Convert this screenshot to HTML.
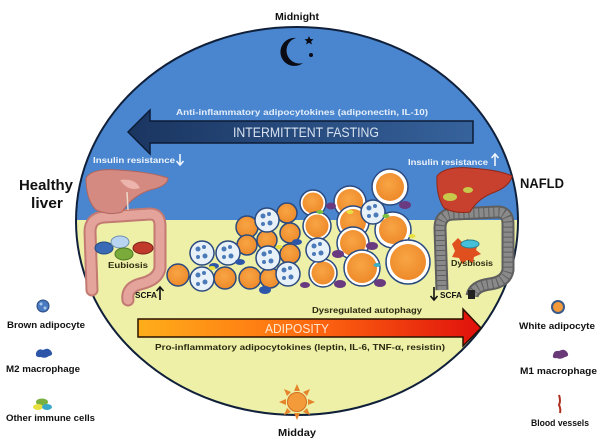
<!DOCTYPE html>
<html><head><meta charset="utf-8"><style>
html,body{margin:0;padding:0;background:#fff;}
svg{display:block;}
text{font-family:"Liberation Sans",Arial,sans-serif;font-weight:bold;}
</style></head><body>
<svg width="600" height="443" viewBox="0 0 600 443" xmlns="http://www.w3.org/2000/svg">
<defs>
<clipPath id="ell"><ellipse cx="297" cy="221" rx="221" ry="194"/></clipPath>
<linearGradient id="fast" x1="0" x2="1" y1="0" y2="0"><stop offset="0" stop-color="#1a3560"/><stop offset="1" stop-color="#36629c"/></linearGradient>
<linearGradient id="adip" x1="0" x2="1" y1="0" y2="0"><stop offset="0" stop-color="#ffae1a"/><stop offset="0.5" stop-color="#ff6a10"/><stop offset="1" stop-color="#e0100c"/></linearGradient>
<radialGradient id="org" cx="0.45" cy="0.4" r="0.6"><stop offset="0" stop-color="#f8a545"/><stop offset="1" stop-color="#ee8a2a"/></radialGradient>
</defs>
<rect width="600" height="443" fill="#fff"/>
<g clip-path="url(#ell)">
<rect x="0" y="0" width="600" height="443" fill="#eef0a8"/>
<rect x="0" y="0" width="600" height="220" fill="#4a86cf"/>
</g>
<ellipse cx="297" cy="221" rx="221" ry="194" fill="none" stroke="#10203a" stroke-width="2"/>

<text x="297" y="20" font-size="10" text-anchor="middle" fill="#111" textLength="44" lengthAdjust="spacingAndGlyphs">Midnight</text>
<path d="M296 38 A14 14 0 1 0 303 63 A11 11 0 1 1 296 38 Z" fill="#0b0b14"/>
<path d="M309 36 l1.3 3 3.2 .3 -2.4 2.1 .8 3.1 -2.9 -1.7 -2.9 1.7 .8 -3.1 -2.4 -2.1 3.2 -.3z" fill="#0b0b14"/>
<circle cx="311" cy="55" r="2" fill="#0b0b14"/>

<text x="302" y="115" font-size="8.5" text-anchor="middle" fill="#e4eefa" textLength="252" lengthAdjust="spacingAndGlyphs">Anti-inflammatory adipocytokines (adiponectin, IL-10)</text>
<polygon points="128,132 150,110 150,121 473,121 473,143 150,143 150,154" fill="url(#fast)" stroke="#0c1b36" stroke-width="1.5"/>
<text x="306" y="137" font-size="13.5" style="font-weight:normal" text-anchor="middle" fill="#d8e2f0" textLength="146" lengthAdjust="spacingAndGlyphs">INTERMITTENT FASTING</text>

<text x="93" y="163" font-size="8.5" fill="#eef4fc" textLength="82" lengthAdjust="spacingAndGlyphs">Insulin resistance</text>
<path d="M180 154 v10 M176.5 161 l3.5 4 3.5 -4" stroke="#eef4fc" stroke-width="1.6" fill="none"/>
<text x="408" y="165" font-size="8.5" fill="#eef4fc" textLength="80" lengthAdjust="spacingAndGlyphs">Insulin resistance</text>
<path d="M495 166 v-11 M491.5 158 l3.5 -4 3.5 4" stroke="#eef4fc" stroke-width="1.6" fill="none"/>

<text x="46" y="190" font-size="14.5" text-anchor="middle" fill="#111" textLength="54" lengthAdjust="spacingAndGlyphs">Healthy</text>
<text x="47" y="208" font-size="14.5" text-anchor="middle" fill="#111" textLength="32" lengthAdjust="spacingAndGlyphs">liver</text>
<text x="520" y="188" font-size="13.5" fill="#111" textLength="44" lengthAdjust="spacingAndGlyphs">NAFLD</text>

<g fill="none" stroke-linecap="round" stroke-linejoin="round">
<path d="M92 290 L90 232 Q90 218 104 217 L150 214 Q160 214 160 226 L160 268 Q158 280 140 284 Q126 288 128 300" stroke="#c27a72" stroke-width="13"/>
<path d="M92 290 L90 232 Q90 218 104 217 L150 214 Q160 214 160 226 L160 268 Q158 280 140 284 Q126 288 128 300" stroke="#e4a49c" stroke-width="9" stroke-dasharray="4 1"/>
</g>
<path d="M86 178 Q92 168 118 170 Q150 172 168 178 Q168 186 150 190 Q132 196 122 212 Q110 216 96 210 Q86 200 86 178 Z" fill="#d48a80" stroke="#b0665e" stroke-width="1"/>
<path d="M120 180 Q135 178 140 188 Q128 192 120 180Z" fill="#ecb4ac"/>
<path d="M127 192 L128 210" stroke="#eed8c8" stroke-width="1.5"/>
<ellipse cx="104" cy="248" rx="9" ry="6" fill="#3a6ab5" stroke="#234a80"/>
<ellipse cx="120" cy="242" rx="9" ry="6" fill="#b8d4f0" stroke="#7090b0"/>
<ellipse cx="124" cy="254" rx="9" ry="6" fill="#7aab3a" stroke="#4d7a20"/>
<ellipse cx="143" cy="248" rx="10" ry="6" fill="#c0392b" stroke="#7a2018"/>
<text x="128" y="268" font-size="8.5" text-anchor="middle" fill="#2a2a10" textLength="40" lengthAdjust="spacingAndGlyphs">Eubiosis</text>
<text x="135" y="298" font-size="8.5" fill="#111" textLength="22" lengthAdjust="spacingAndGlyphs">SCFA</text>
<path d="M160 300 v-12 M156.5 291 l3.5 -4 3.5 4" stroke="#111" stroke-width="1.6" fill="none"/>

<g fill="none" stroke-linecap="butt" stroke-linejoin="round">
<path d="M442 290 L440 228 Q440 214 454 214 L498 212 Q508 212 508 224 L508 270 Q506 282 490 284 Q474 286 472 296" stroke="#5e5e5e" stroke-width="13"/>
<path d="M442 290 L440 228 Q440 214 454 214 L498 212 Q508 212 508 224 L508 270 Q506 282 490 284 Q474 286 472 296" stroke="#8a8a8a" stroke-width="9" stroke-dasharray="4 1"/>
</g>
<rect x="468" y="290" width="7" height="9" fill="#222"/>
<path d="M437 176 Q445 166 470 168 Q500 170 512 176 Q510 186 495 192 Q478 198 470 212 Q455 214 444 208 Q436 196 437 176 Z" fill="#c8402e" stroke="#902818" stroke-width="1"/>
<ellipse cx="450" cy="197" rx="7" ry="4" fill="#c8c84a"/>
<ellipse cx="468" cy="190" rx="5" ry="3" fill="#c8c84a"/>
<path d="M452 244 l6 -6 4 4 6 -3 3 5 7 0 -2 6 5 4 -7 3 -1 6 -6 -3 -5 4 -3 -6 -7 -1 3 -6z" fill="#e0501e"/>
<ellipse cx="470" cy="244" rx="9" ry="4" fill="#46c0d8" stroke="#2a8090"/>
<text x="472" y="266" font-size="8.5" text-anchor="middle" fill="#2a2a10" textLength="42" lengthAdjust="spacingAndGlyphs">Dysbiosis</text>
<path d="M434 287 v12 M430.5 296 l3.5 4 3.5 -4" stroke="#111" stroke-width="1.6" fill="none"/>
<text x="440" y="298" font-size="8.5" fill="#111" textLength="22" lengthAdjust="spacingAndGlyphs">SCFA</text>

<g stroke="#2a4a80" stroke-width="1.5">
<g>
<circle cx="390" cy="187" r="18" fill="#fff"/><circle cx="390" cy="187" r="14" fill="url(#org)" stroke="none"/>
<circle cx="393" cy="230" r="18" fill="#fff"/><circle cx="393" cy="230" r="14" fill="url(#org)" stroke="none"/>
<circle cx="408" cy="262" r="22" fill="#fff"/><circle cx="408" cy="262" r="18" fill="url(#org)" stroke="none"/>
<circle cx="350" cy="202" r="16" fill="#fff"/><circle cx="350" cy="202" r="13" fill="url(#org)" stroke="none"/>
<circle cx="353" cy="222" r="16" fill="#fff"/><circle cx="353" cy="222" r="13" fill="url(#org)" stroke="none"/>
<circle cx="353" cy="243" r="16" fill="#fff"/><circle cx="353" cy="243" r="13" fill="url(#org)" stroke="none"/>
<circle cx="362" cy="268" r="18" fill="#fff"/><circle cx="362" cy="268" r="15" fill="url(#org)" stroke="none"/>
<circle cx="313" cy="203" r="13" fill="#fff"/><circle cx="313" cy="203" r="10.5" fill="url(#org)" stroke="none"/>
<circle cx="317" cy="226" r="14" fill="#fff"/><circle cx="317" cy="226" r="11.5" fill="url(#org)" stroke="none"/>
<circle cx="323" cy="273" r="14" fill="#fff"/><circle cx="323" cy="273" r="11.5" fill="url(#org)" stroke="none"/>
</g>
<circle cx="178" cy="275" r="11" fill="url(#org)"/>
<circle cx="225" cy="278" r="11" fill="url(#org)"/>
<circle cx="247" cy="227" r="11" fill="url(#org)"/>
<circle cx="247" cy="245" r="10" fill="url(#org)"/>
<circle cx="250" cy="278" r="11" fill="url(#org)"/>
<circle cx="267" cy="240" r="10" fill="url(#org)"/>
<circle cx="270" cy="278" r="10" fill="url(#org)"/>
<circle cx="287" cy="213" r="10" fill="url(#org)"/>
<circle cx="290" cy="233" r="10" fill="url(#org)"/>
<circle cx="290" cy="254" r="10" fill="url(#org)"/>
<g fill="#e8f0f8">
<circle cx="202" cy="253" r="12"/>
<circle cx="202" cy="279" r="12"/>
<circle cx="228" cy="253" r="12"/>
<circle cx="267" cy="220" r="12"/>
<circle cx="268" cy="258" r="12"/>
<circle cx="288" cy="274" r="12"/>
<circle cx="318" cy="250" r="12"/>
<circle cx="373" cy="212" r="12"/>
</g>
</g>
<g fill="#4a7ab8">
<circle cx="198" cy="249" r="2.5"/><circle cx="205" cy="256" r="2.5"/><circle cx="204" cy="247" r="2"/><circle cx="198" cy="257" r="2"/>
<circle cx="198" cy="275" r="2.5"/><circle cx="205" cy="282" r="2.5"/><circle cx="204" cy="273" r="2"/><circle cx="198" cy="284" r="2"/>
<circle cx="224" cy="249" r="2.5"/><circle cx="231" cy="256" r="2.5"/><circle cx="230" cy="247" r="2"/><circle cx="224" cy="257" r="2"/>
<circle cx="263" cy="216" r="2.5"/><circle cx="270" cy="223" r="2.5"/><circle cx="269" cy="214" r="2"/><circle cx="263" cy="224" r="2"/>
<circle cx="264" cy="254" r="2.5"/><circle cx="271" cy="261" r="2.5"/><circle cx="270" cy="252" r="2"/><circle cx="264" cy="262" r="2"/>
<circle cx="284" cy="270" r="2.5"/><circle cx="291" cy="277" r="2.5"/><circle cx="290" cy="268" r="2"/><circle cx="284" cy="278" r="2"/>
<circle cx="314" cy="246" r="2.5"/><circle cx="321" cy="253" r="2.5"/><circle cx="320" cy="244" r="2"/><circle cx="314" cy="254" r="2"/>
<circle cx="369" cy="208" r="2.5"/><circle cx="376" cy="215" r="2.5"/><circle cx="375" cy="206" r="2"/><circle cx="369" cy="216" r="2"/>
</g>
<g fill="#2e56a8">
<ellipse cx="214" cy="266" rx="5" ry="3"/><ellipse cx="240" cy="262" rx="5" ry="3"/><ellipse cx="265" cy="290" rx="6" ry="4"/><ellipse cx="297" cy="242" rx="5" ry="3"/>
</g>
<g fill="#6a3a80">
<ellipse cx="338" cy="254" rx="6" ry="4"/><ellipse cx="340" cy="284" rx="6" ry="4"/><ellipse cx="372" cy="246" rx="6" ry="4"/><ellipse cx="380" cy="283" rx="6" ry="4"/><ellipse cx="405" cy="205" rx="6" ry="4"/><ellipse cx="331" cy="206" rx="5" ry="3.5"/><ellipse cx="305" cy="285" rx="5" ry="3"/>
</g>
<g>
<ellipse cx="212" cy="268" rx="3.5" ry="2" fill="#e8e040"/><ellipse cx="279" cy="247" rx="3.5" ry="2" fill="#e8e040"/><ellipse cx="320" cy="212" rx="3.5" ry="2" fill="#7ac040"/><ellipse cx="350" cy="212" rx="3.5" ry="2" fill="#e8e040"/><ellipse cx="386" cy="216" rx="3.5" ry="2" fill="#7ac040"/><ellipse cx="377" cy="265" rx="3.5" ry="2" fill="#3ab0c8"/><ellipse cx="412" cy="236" rx="3.5" ry="2" fill="#e8e040"/>
</g>

<text x="367" y="313" font-size="8.5" text-anchor="middle" fill="#2a2a10" textLength="110" lengthAdjust="spacingAndGlyphs">Dysregulated autophagy</text>
<polygon points="138,319 463,319 463,309 481,328 463,346 463,337 138,337" fill="url(#adip)" stroke="#2a1200" stroke-width="1.5"/>
<text x="297" y="333" font-size="13" style="font-weight:normal" text-anchor="middle" fill="#fde8d0" textLength="64" lengthAdjust="spacingAndGlyphs">ADIPOSITY</text>
<text x="300" y="350" font-size="8.5" text-anchor="middle" fill="#2a2a10" textLength="290" lengthAdjust="spacingAndGlyphs">Pro-inflammatory adipocytokines (leptin, IL-6, TNF-α, resistin)</text>

<g fill="#e5842a">
<polygon points="297,384 300,391 294,391"/><polygon points="297,420 300,413 294,413"/>
<polygon points="279,402 286,399 286,405"/><polygon points="315,402 308,399 308,405"/>
<polygon points="284,389 291,392 287,396"/><polygon points="310,389 303,392 307,396"/>
<polygon points="284,415 291,412 287,408"/><polygon points="310,415 303,412 307,408"/>
</g>
<circle cx="297" cy="402" r="9.5" fill="#f39a3a" stroke="#d07020" stroke-width="1"/>
<text x="297" y="436" font-size="10" text-anchor="middle" fill="#111" textLength="38" lengthAdjust="spacingAndGlyphs">Midday</text>

<circle cx="43" cy="306" r="6" fill="#4a7ac0" stroke="#2a4a80"/>
<circle cx="41" cy="304" r="1.5" fill="#a8c8ee"/><circle cx="45" cy="308" r="1.5" fill="#a8c8ee"/>
<text x="7" y="328" font-size="9" fill="#111" textLength="78" lengthAdjust="spacingAndGlyphs">Brown adipocyte</text>
<path d="M36 353 q2 -5 7 -3 q5 -3 8 1 q3 4 -2 5 q-4 3 -8 1 q-6 1 -5 -4z" fill="#2e56a8"/>
<text x="6" y="372" font-size="9" fill="#111" textLength="74" lengthAdjust="spacingAndGlyphs">M2 macrophage</text>
<ellipse cx="42" cy="402" rx="6" ry="3.5" fill="#7ab040"/><ellipse cx="38" cy="407" rx="5" ry="3" fill="#e8e040"/><ellipse cx="47" cy="407" rx="5" ry="3" fill="#3aa8c8"/>
<text x="6" y="421" font-size="9" fill="#111" textLength="89" lengthAdjust="spacingAndGlyphs">Other immune cells</text>

<circle cx="558" cy="307" r="6" fill="#f39a3a" stroke="#3a5a8a" stroke-width="2"/>
<text x="519" y="329" font-size="9" fill="#111" textLength="76" lengthAdjust="spacingAndGlyphs">White adipocyte</text>
<path d="M553 355 q1 -5 6 -4 q5 -3 8 1 q3 4 -2 5 q-5 3 -8 1 q-5 1 -4 -3z" fill="#6a3a78"/>
<text x="520" y="374" font-size="9" fill="#111" textLength="77" lengthAdjust="spacingAndGlyphs">M1 macrophage</text>
<path d="M559 395 q2 6 0 10 q2 4 1 8" stroke="#b03020" stroke-width="2" fill="none"/>
<text x="531" y="426" font-size="9" fill="#111" textLength="58" lengthAdjust="spacingAndGlyphs">Blood vessels</text>
</svg>
</body></html>
